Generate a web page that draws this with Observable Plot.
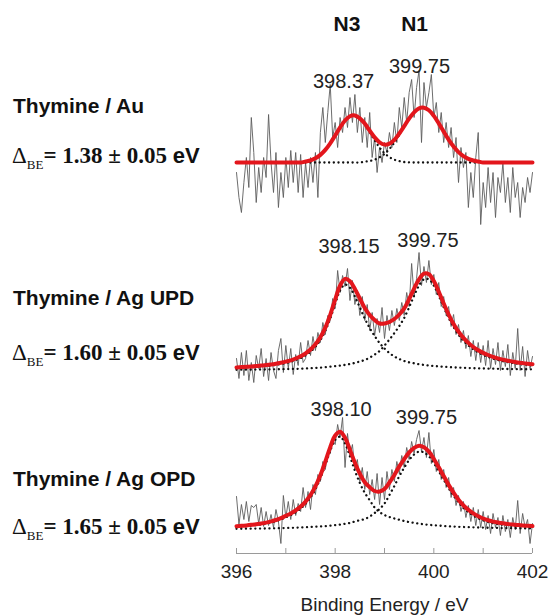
<!DOCTYPE html>
<html><head><meta charset="utf-8">
<script src="https://cdn.jsdelivr.net/npm/d3@7"></script>
<script src="https://cdn.jsdelivr.net/npm/@observablehq/plot@0.6"></script>
<style>
body{margin:0;background:#fff}
#chart{width:549px;height:616px}
</style>
</head><body><div id="chart"></div>
<script>
// Energy grids (eV)
const energyStart = 396;
const rawStep = 0.05;   // measured spectrum step
const fitStep = 0.1;    // fitted-curve sampling step

const spectra = ["Thymine / Au", "Thymine / Ag UPD", "Thymine / Ag OPD"];
const deltaBE = ["1.38", "1.60", "1.65"];
const deltaErr = "0.05";
// vertical stacking offset of each spectrum (intensity units)
const stackOffset = [391, 183, 24];

// Raw XPS N 1s spectra (intensity above background), 396.00 → 402.00 eV every 0.05 eV
const rawAu = [
  -10,-35,-50,-20,5,-25,45,10,-40,-5,
  -30,5,-15,48,0,-30,10,-45,-10,-35,
  5,-25,12,-20,10,-30,8,-35,0,-25,
  5,-20,10,-35,30,55,20,50,78,25,
  40,15,45,30,55,35,65,40,68,30,
  55,20,45,15,50,5,25,-10,15,0,
  20,10,30,15,40,20,55,35,65,40,
  70,83,45,75,92,20,80,55,70,88,
  45,60,30,50,20,40,15,35,5,25,
  -20,15,-5,10,-45,-10,-35,5,30,-62,
  -20,-45,-5,-40,-10,-55,-15,-30,0,-40,
  -15,-50,-5,-35,-20,-55,-25,-40,-15,-30,
  -10];
const rawUPD = [
  12,-8,18,-5,20,-10,8,-12,15,2,
  22,-6,12,-10,18,0,-8,20,32,-2,
  25,2,22,-4,16,5,28,8,12,30,
  15,34,20,38,28,48,36,55,50,72,
  62,100,78,95,84,102,70,90,66,80,
  55,74,50,66,40,58,35,52,38,63,
  32,55,40,60,45,62,50,68,55,78,
  64,107,74,92,118,85,104,88,110,86,
  96,76,88,64,74,55,64,44,56,36,
  46,28,40,22,35,14,30,10,28,8,
  25,5,30,2,22,6,28,0,20,4,
  26,-5,18,2,42,0,24,-6,20,2,
  14];
const rawOPD = [
  33,5,25,10,28,8,24,22,25,6,
  22,3,18,4,15,2,20,8,-14,34,
  12,28,10,30,14,26,18,42,22,38,
  20,45,35,55,48,68,60,78,76,90,
  85,105,92,112,62,96,74,85,60,70,
  48,62,40,58,35,50,30,56,25,52,
  30,58,40,60,48,68,56,74,62,82,
  70,88,76,90,99,78,92,72,97,66,
  80,58,70,50,60,42,52,32,42,24,
  34,18,28,12,24,8,22,4,20,2,
  18,0,14,-4,16,2,12,-6,14,-2,
  10,-8,12,0,29,-4,16,2,10,-14,
  6];

// Fitted components N3 and N1, 396.0 → 402.0 eV every 0.1 eV (null = not drawn)
const n3Au = [
  null,null,null,null,null,null,null,null,null,null,null,null,null,null,
  1.0,2.1,4.2,7.6,12.6,19.2,27.0,35.1,42.0,46.3,47.0,44.1,38.1,30.3,22.2,15.0,9.3,5.4,2.8,1.4,0.5,0.2,
  0,0,0,0,0,0,0,0,0,0,0,0,0,0,
  null,null,null,null,null,null,null,null,null,null,null];
const n1Au = [
  null,null,null,null,null,null,null,null,null,null,null,null,null,null,
  0,0,0,0,0,0,0,0,0,0,0,0,
  0.8,1.5,2.9,5.2,8.6,13.5,19.9,27.6,35.9,43.8,50.2,54.2,54.8,52.2,46.6,39.1,30.9,22.9,15.9,10.4,6.4,3.7,2.0,1.0,
  null,null,null,null,null,null,null,null,null,null,null];
const n3UPD = [
  2.4,2.6,2.9,3.1,3.5,3.9,4.4,4.9,5.6,6.5,
  7.5,8.7,10.4,12.4,15.2,18.8,23.7,30.4,39.6,51.9,
  66.6,80.1,86.0,82.7,74.0,63.0,52.0,42.5,34.5,27.5,
  22.0,17.5,14.0,11.5,9.5,8.2,7.2,6.3,5.6,5.0,
  4.5,4.1,3.7,3.4,3.1,2.9,2.7,2.5,2.3,2.15,
  2.0,1.9,1.8,1.7,1.6,1.5,1.4,1.35,1.3,1.2,
  1.15];
const n1UPD = [
  0.7,0.8,0.8,0.9,0.9,1.0,1.0,1.1,1.2,1.3,
  1.4,1.5,1.6,1.8,2.0,2.3,2.6,2.9,3.3,3.8,
  4.3,4.9,5.6,6.5,7.6,9.0,10.5,13.0,16.0,19.5,
  25.0,31.0,37.5,44.5,52.6,63.3,74.7,84.9,91.2,91.2,
  84.9,74.7,63.3,52.6,43.4,35.9,29.9,25.1,21.2,18.1,
  15.6,13.6,11.9,10.5,9.3,8.3,7.5,6.7,6.1,5.6,
  5.1];
const n3OPD = [
  2.6,2.9,3.3,3.8,4.4,5.0,5.9,7.0,8.3,10.0,
  12.2,14.4,17.3,20.9,25.7,32.0,40.3,51.1,64.4,78.6,
  89.7,92.8,86.0,73.0,58.8,46.5,36.7,29.3,22.0,17.5,
  14.5,12.5,11.0,9.8,8.5,7.5,6.6,5.9,5.2,4.7,
  4.25,3.9,3.5,3.2,2.95,2.7,2.5,2.3,2.2,2.0,
  1.9,1.75,1.65,1.55,1.45,1.4,1.3,1.25,1.15,1.1,
  1.05];
const n1OPD = [
  0.7,0.75,0.8,0.85,0.9,0.95,1.0,1.1,1.2,1.35,
  1.5,1.65,1.8,2.0,2.2,2.5,2.8,3.1,3.4,3.8,
  4.3,5.0,5.7,6.6,8.0,9.3,10.5,13.0,16.5,20.5,
  26.0,34.5,43.5,53.3,61.9,69.6,75.0,77.9,77.0,73.2,
  66.3,58.3,49.9,41.4,33.9,27.1,21.6,17.4,13.9,11.2,
  9.1,7.5,6.2,5.4,4.7,4.1,3.6,3.2,2.9,2.6,
  2.4];

// Peak position labels: [spectrum index, x (eV), y (intensity above background), text]
const peakLabelSpectrum = [0, 0, 1, 1, 2, 2];
const peakLabelX = [398.17, 399.71, 398.28, 399.88, 398.12, 399.85];
const peakLabelY = [75, 90, 118, 124, 114, 106];
const peakLabelText = ["398.37", "399.75", "398.15", "399.75", "398.10", "399.75"];

// Column headers
const headerText = ["N3", "N1"];
const headerX = [398.24, 399.61];
const headerY = 523;

const xTicks = [396, 397, 398, 399, 400, 401, 402];
const xTickLabels = [396, 398, 400, 402];
const xTitle = "Binding Energy / eV";

// ---- build tables ----
const raws = [rawAu, rawUPD, rawOPD];
const n3s = [n3Au, n3UPD, n3OPD];
const n1s = [n1Au, n1UPD, n1OPD];
const rawRows = [], compRows = [], fitRows = [];
raws.forEach((arr, s) => arr.forEach((v, i) => rawRows.push({s, x: energyStart + i * rawStep, y: v + stackOffset[s]})));
n3s.forEach((arr, s) => arr.forEach((v, i) => {
  const x = energyStart + i * fitStep;
  const a = v, b = n1s[s][i];
  compRows.push({k: s + "-N3", x, y: a == null ? null : a + stackOffset[s]});
  compRows.push({k: s + "-N1", x, y: b == null ? null : b + stackOffset[s]});
  fitRows.push({s, x, y: (a ?? 0) + (b ?? 0) + stackOffset[s]});
}));
const peakRows = peakLabelText.map((t, i) => ({x: peakLabelX[i], y: peakLabelY[i] + stackOffset[peakLabelSpectrum[i]], t}));
const headerRows = headerText.map((t, i) => ({x: headerX[i], y: headerY, t}));

const sans = "'Liberation Sans', Arial, Helvetica, sans-serif";
const serif = "'Liberation Serif', 'Times New Roman', serif";

const svg = Plot.plot({
  width: 549, height: 616,
  marginLeft: 236, marginRight: 17, marginTop: 0, marginBottom: 63,
  style: {fontFamily: sans, background: "white", overflow: "visible"},
  x: {domain: [396, 402], axis: null},
  y: {domain: [0, 553], axis: null},
  marks: [
    Plot.ruleY([0], {stroke: "#9a9a9a", strokeWidth: 1}),
    Plot.ruleX(xTicks, {x: d => d, y1: 0, y2: 5, stroke: "#9a9a9a", strokeWidth: 1}),
    Plot.axisX(xTickLabels, {tickSize: 0, tickPadding: 11, fontSize: 19, fill: "#222", label: null}),
    Plot.line(rawRows, {x: "x", y: "y", z: "s", stroke: "#5c5c5c", strokeWidth: 0.9}),
    Plot.line(compRows, {x: "x", y: "y", z: "k", stroke: "#111", strokeWidth: 2.3, strokeDasharray: "0.1,4.6", strokeLinecap: "round", curve: "catmull-rom"}),
    Plot.line(fitRows, {x: "x", y: "y", z: "s", stroke: "#e3161c", strokeWidth: 4, curve: "catmull-rom"}),
    Plot.text(peakRows, {x: "x", y: "y", text: "t", fontSize: 20, fill: "#222", lineAnchor: "bottom"}),
    Plot.text(headerRows, {x: "x", y: "y", text: "t", fontSize: 21, fontWeight: "bold", fill: "#111", lineAnchor: "bottom"}),
    Plot.text([xTitle], {text: d => d, frameAnchor: "bottom", dy: 57, lineAnchor: "bottom", fontSize: 19, fill: "#222"})
  ]
});

// Left-hand sample labels
const nameBaseline = [113, 305, 486];
const deltaBaseline = [163, 360, 534];
const s = d3.select(svg);
spectra.forEach((name, i) => {
  s.append("text").attr("x", 13).attr("y", nameBaseline[i]).attr("text-anchor", "start")
    .attr("font-family", sans).attr("font-weight", "bold").attr("font-size", 21).attr("fill", "#111")
    .text(name);
  const t = s.append("text").attr("x", 12).attr("y", deltaBaseline[i]).attr("text-anchor", "start")
    .attr("font-family", serif).attr("font-size", 23).attr("fill", "#111");
  t.append("tspan").text("\u0394");
  t.append("tspan").attr("font-size", 13).attr("dy", 6).text("BE");
  t.append("tspan").attr("dy", -6).attr("font-weight", "bold").text("= " + deltaBE[i] + " \u00B1 " + deltaErr + " ");
  t.append("tspan").attr("font-family", sans).attr("font-weight", "bold").attr("font-size", 22).text("eV");
});

document.getElementById("chart").appendChild(svg);
</script>
</body></html>
